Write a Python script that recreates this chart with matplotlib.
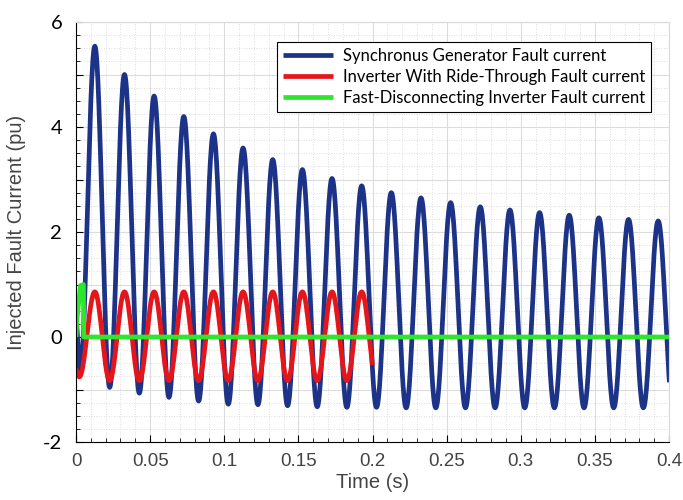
import numpy as np
import matplotlib.pyplot as plt
from matplotlib.ticker import MultipleLocator, FuncFormatter

plt.rcParams["font.family"] = ["Liberation Sans", "DejaVu Sans"]

# Extrema (time in s, current in pu)
sg_start = (0.0, 0.30)
sg_peak_t = [0.0127, 0.0327, 0.0527, 0.0727, 0.0927, 0.1127, 0.1327, 0.1527, 0.1727, 0.1927,
             0.2127, 0.2327, 0.2527, 0.2727, 0.2927, 0.3127, 0.3327, 0.3527, 0.3727, 0.3927]
sg_peak_v = [5.54, 5.00, 4.59, 4.20, 3.87, 3.60, 3.38, 3.19, 3.02, 2.88,
             2.75, 2.65, 2.56, 2.48, 2.42, 2.37, 2.32, 2.27, 2.24, 2.21]
sg_trough_t = [0.0027, 0.0227, 0.0427, 0.0627, 0.0827, 0.1027, 0.1227, 0.1427, 0.1627, 0.1827, 0.2027,
               0.2227, 0.2427, 0.2627, 0.2827, 0.3027, 0.3227, 0.3427, 0.3627, 0.3827, 0.4027]
sg_trough_v = [-0.68, -0.96, -1.07, -1.15, -1.22, -1.28, -1.29, -1.31, -1.33, -1.34, -1.34,
               -1.35, -1.35, -1.35, -1.35, -1.35, -1.35, -1.35, -1.35, -1.35, -1.35]

inv_start = (0.0, -0.62)
inv_peak_t = [0.0127, 0.0327, 0.0527, 0.0727, 0.0927, 0.1127, 0.1327, 0.1527, 0.1727, 0.1927]
inv_peak_v = [0.86, 0.86, 0.86, 0.86, 0.86, 0.86, 0.86, 0.86, 0.86, 0.86]
inv_trough_t = [0.0022, 0.0227, 0.0427, 0.0627, 0.0827, 0.1027, 0.1227, 0.1427, 0.1627, 0.1827, 0.2027]
inv_trough_v = [-0.76, -0.83, -0.83, -0.83, -0.83, -0.83, -0.83, -0.83, -0.83, -0.83, -0.83]
inv_trip = 0.2

fd_t = [0.0, 0.0005, 0.0030, 0.0050, 0.0052, 0.4]
fd_v = [0.0, 0.30, 0.98, 1.00, 0.0, 0.0]

labels = ["Synchronus Generator Fault current",
          "Inverter With Ride-Through Fault current",
          "Fast-Disconnecting Inverter Fault current"]


def trace(start, pk_t, pk_v, tr_t, tr_v, n=30):
    # join the extrema with half-cosine segments
    pts = sorted([start] + list(zip(pk_t, pk_v)) + list(zip(tr_t, tr_v)))
    ts, vs = [], []
    s = np.linspace(0, 1, n)
    for (t0, v0), (t1, v1) in zip(pts[:-1], pts[1:]):
        ts.append(t0 + (t1 - t0) * s)
        vs.append(v0 + (v1 - v0) * (1 - np.cos(np.pi * s)) / 2)
    return np.concatenate(ts), np.concatenate(vs)


sg_t, sg_v = trace(sg_start, sg_peak_t, sg_peak_v, sg_trough_t, sg_trough_v)
inv_t, inv_v = trace(inv_start, inv_peak_t, inv_peak_v, inv_trough_t, inv_trough_v)
keep = inv_t <= inv_trip
inv_t, inv_v = inv_t[keep], inv_v[keep]

fig = plt.figure(figsize=(6.83, 5.0), dpi=100)
ax = fig.add_axes([0.1113, 0.116, 0.8682, 0.84])

ax.plot(sg_t, sg_v, color="#1c3388", lw=3.4, label=labels[0], solid_capstyle="butt")
ax.plot(inv_t, inv_v, color="#e4161b", lw=3.4, label=labels[1], solid_capstyle="butt")
ax.plot(fd_t, fd_v, color="#2ee62e", lw=3.4, label=labels[2], solid_capstyle="butt")

ax.set_xlim(0, 0.4)
ax.set_ylim(-2, 6)
ax.xaxis.set_major_locator(MultipleLocator(0.05))
ax.xaxis.set_minor_locator(MultipleLocator(0.01))
ax.yaxis.set_major_locator(MultipleLocator(1))
ax.yaxis.set_minor_locator(MultipleLocator(0.25))
ax.xaxis.set_major_formatter(FuncFormatter(lambda v, p: "0" if abs(v) < 1e-9 else f"{v:g}"))
ax.yaxis.set_major_formatter(FuncFormatter(lambda v, p: f"{int(round(v))}" if round(v) % 2 == 0 else ""))

ax.grid(which="major", color="#dcdcdc", lw=0.8, ls="-")
ax.grid(which="minor", color="#d4d4d4", lw=0.6, ls=(0, (1, 2)))
ax.set_axisbelow(True)

ax.tick_params(which="both", direction="in", top=False, right=False)
ax.tick_params(which="major", length=5)
ax.tick_params(which="minor", length=3)
ax.tick_params(axis="x", labelsize=13.5, labelcolor="#444444", pad=8)
ax.tick_params(axis="y", labelsize=14.5, labelcolor="black", pad=10)
for lab in ax.get_yticklabels():
    lab.set_family("Lato")
for side in ("top", "right"):
    ax.spines[side].set_color("#d8d8d8")

ax.set_xlabel("Time (s)", fontsize=14.5, color="#444444", labelpad=2)
ax.set_ylabel("Injected Fault Current (pu)", fontsize=14.5, color="#444444", labelpad=12)

leg = ax.legend(loc="upper right", bbox_to_anchor=(0.970, 0.952), borderaxespad=0,
                fancybox=False, framealpha=1, edgecolor="black", handlelength=3.0,
                prop={"family": "Lato", "size": 12}, labelspacing=0.3, handletextpad=0.6,
                borderpad=0.35)
leg.get_frame().set_linewidth(0.8)

fig.savefig("out.png", dpi=100)
